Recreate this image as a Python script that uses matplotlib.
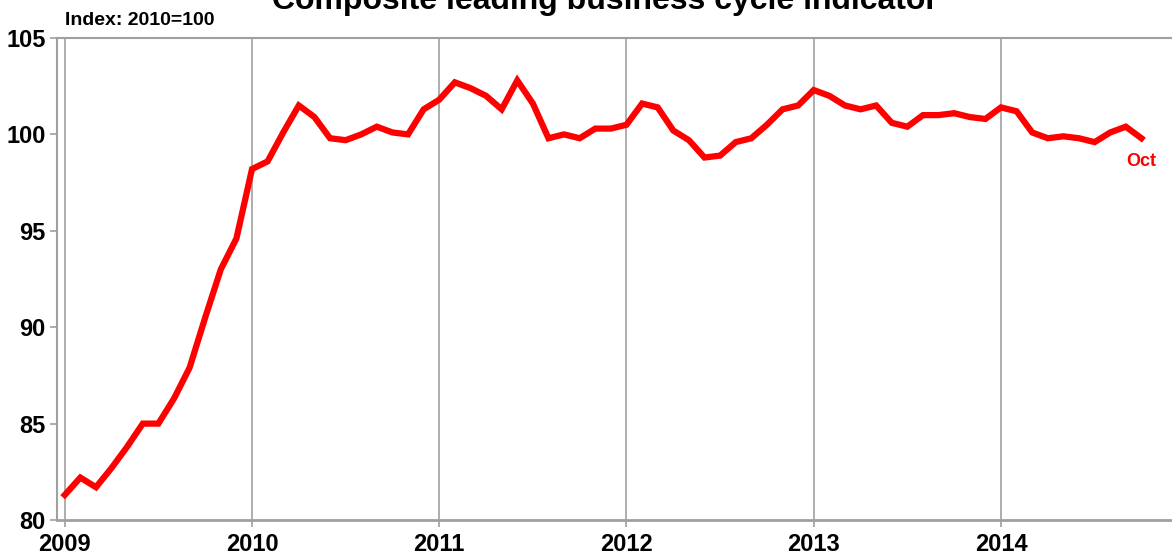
import numpy as np
import matplotlib.pyplot as plt

plt.rcParams['font.family'] = ['Liberation Sans', 'DejaVu Sans']

# Monthly index values, Jan 2009 .. Oct 2014 (2010=100)
values_2009 = [81.3, 82.2, 81.7, 82.7, 83.8, 85.0, 85.0, 86.3, 87.9, 90.5, 93.0, 94.6]
values_2010 = [98.2, 98.6, 100.1, 101.5, 100.9, 99.8, 99.7, 100.0, 100.4, 100.1, 100.0, 101.3]
values_2011 = [101.8, 102.7, 102.4, 102.0, 101.3, 102.8, 101.6, 99.8, 100.0, 99.8, 100.3, 100.3]
values_2012 = [100.5, 101.6, 101.4, 100.2, 99.7, 98.8, 98.9, 99.6, 99.8, 100.5, 101.3, 101.5]
values_2013 = [102.3, 102.0, 101.5, 101.3, 101.5, 100.6, 100.4, 101.0, 101.0, 101.1, 100.9, 100.8]
values_2014 = [101.4, 101.2, 100.1, 99.8, 99.9, 99.8, 99.6, 100.1, 100.4, 99.8]

index_values = values_2009 + values_2010 + values_2011 + values_2012 + values_2013 + values_2014
years = [2009, 2010, 2011, 2012, 2013, 2014]
y_ticks = [80, 85, 90, 95, 100, 105]

months = np.arange(len(index_values))
t = 2009 + months / 12.0

grey = '#a0a0a0'
red = '#ff0000'

fig = plt.figure(figsize=(11.72, 5.57), dpi=100)
ax = fig.add_axes([0.0486, 0.0664, 0.9514, 0.8654])

ax.plot(t, index_values, color=red, lw=4.5, solid_joinstyle='miter', zorder=3)
ax.text(t[-1], 98.6, 'Oct', color=red, fontsize=13, fontweight='bold',
        ha='center', va='center')

ax.set_xlim(2009 - 0.5 / 12, 2009 + 70.96 / 12)
ax.set_ylim(80, 105)
ax.set_xticks(years)
ax.set_xticklabels([str(y) for y in years])
ax.set_yticks(y_ticks)
ax.set_yticklabels([str(v) for v in y_ticks])

ax.grid(axis='x', color=grey, lw=1.2)
ax.grid(axis='y', visible=False)
ax.set_axisbelow(True)

for side in ['left', 'top', 'bottom']:
    ax.spines[side].set_color(grey)
    ax.spines[side].set_linewidth(1.5)
ax.spines['right'].set_visible(False)
ax.spines['bottom'].set_linewidth(2)

ax.tick_params(axis='both', colors=grey, length=5, width=1.2)
ax.tick_params(axis='both', labelcolor='black', labelsize=17)
ax.tick_params(axis='y', pad=3)
ax.tick_params(axis='x', pad=4)
for lab in ax.get_xticklabels() + ax.get_yticklabels():
    lab.set_fontweight('bold')

fig.text(0.0555, 0.963, 'Index: 2010=100', fontsize=14, fontweight='bold',
         ha='left', va='center')
fig.text(0.516, 0.984, 'Composite leading business cycle indicator', fontsize=23,
         fontweight='bold', ha='center', va='baseline')

fig.savefig('out.png', dpi=100)
